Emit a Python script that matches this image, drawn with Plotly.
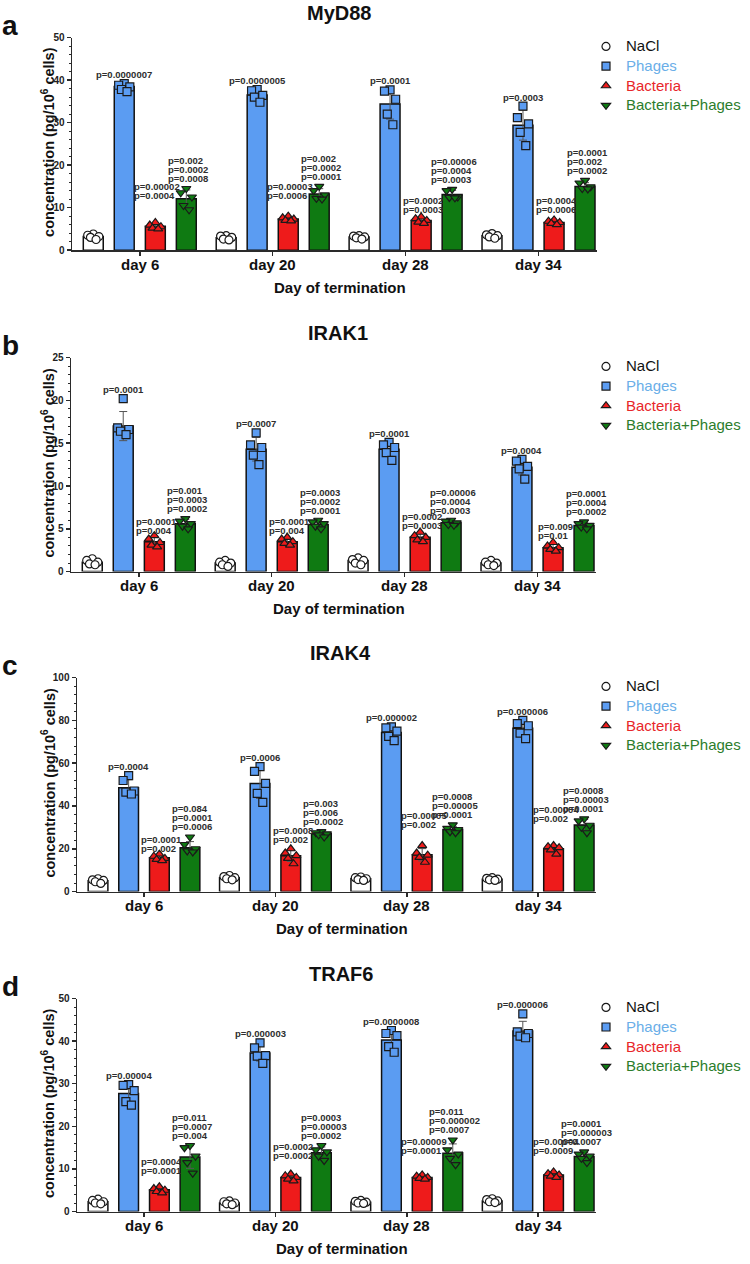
import numpy as np
import plotly.graph_objects as go

W, H = 750, 1264
FONT = "Liberation Sans, Arial, sans-serif"

days = ["day 6", "day 20", "day 28", "day 34"]
series = ["NaCl", "Phages", "Bacteria", "Bacteria+Phages"]
panel_titles = ["MyD88", "IRAK1", "IRAK4", "TRAF6"]
panel_letters = ["a", "b", "c", "d"]

# ---------------- MyD88 (a) ----------------
myd88_nacl_mean = [3.2, 2.9, 3.1, 3.4]
myd88_nacl_pts = [[3.8, 3.5, 3.2, 3.0, 2.5], [3.4, 3.3, 3.0, 2.6, 2.4], [3.4, 3.3, 3.1, 2.9, 2.6], [3.9, 3.6, 3.4, 3.1, 2.8]]
myd88_phages_mean = [38.5, 36.5, 34.4, 29.4]
myd88_phages_pts = [[39.2, 38.8, 38.4, 37.8, 37.3], [37.8, 37.5, 36.4, 36.0, 34.8], [37.7, 37.4, 35.5, 32.0, 29.5], [33.9, 31.2, 29.7, 27.7, 24.6]]
myd88_bact_mean = [5.6, 7.3, 7.0, 6.5]
myd88_bact_pts = [[6.5, 5.9, 5.5, 5.2, 5.0], [8.0, 7.6, 7.3, 7.0, 6.9], [7.8, 7.4, 7.0, 6.6, 6.3], [7.1, 6.8, 6.5, 6.3, 6.0]]
myd88_bp_mean = [12.1, 13.2, 13.1, 15.0]
myd88_bp_pts = [[14.5, 13.5, 12.5, 10.5, 9.5], [15.0, 14.0, 13.0, 12.2, 12.0], [14.3, 14.0, 12.5, 12.4, 12.3], [16.4, 15.8, 14.9, 14.5, 14.4]]
myd88_phages_p = ["p=0.0000007", "p=0.0000005", "p=0.0001", "p=0.0003"]
myd88_bact_p = [["p=0.00002", "p=0.0004"], ["p=0.00003", "p=0.0006"], ["p=0.0002", "p=0.0003"], ["p=0.0004", "p=0.0006"]]
myd88_bp_p = [["p=0.002", "p=0.0002", "p=0.0008"], ["p=0.002", "p=0.0002", "p=0.0001"], ["p=0.00006", "p=0.0004", "p=0.0003"], ["p=0.0001", "p=0.002", "p=0.0002"]]

# ---------------- IRAK1 (b) ----------------
irak1_nacl_mean = [1.1, 1.0, 1.3, 1.0]
irak1_nacl_pts = [[1.5, 1.3, 1.1, 0.9, 0.8], [1.3, 1.1, 1.0, 0.8, 0.6], [1.6, 1.4, 1.3, 1.0, 0.8], [1.3, 1.1, 1.0, 0.8, 0.7]]
irak1_phages_mean = [17.0, 14.3, 14.3, 12.2]
irak1_phages_pts = [[20.2, 16.8, 16.6, 16.4, 16.0], [16.2, 14.8, 14.5, 13.6, 12.5], [15.1, 14.8, 14.5, 13.9, 13.0], [13.1, 12.9, 12.3, 12.0, 10.8]]
irak1_bact_mean = [3.5, 3.5, 4.0, 2.8]
irak1_bact_pts = [[4.2, 3.8, 3.4, 3.1, 2.9], [4.0, 3.8, 3.5, 3.3, 3.1], [4.6, 4.2, 4.0, 3.7, 3.5], [3.4, 3.0, 2.8, 2.6, 2.4]]
irak1_bp_mean = [5.6, 5.5, 5.7, 5.4]
irak1_bp_pts = [[6.2, 5.9, 5.6, 5.3, 5.0], [6.0, 5.8, 5.6, 5.3, 5.0], [6.0, 5.9, 5.7, 5.5, 5.4], [5.8, 5.6, 5.4, 5.2, 5.0]]
irak1_phages_p = ["p=0.0001", "p=0.0007", "p=0.0001", "p=0.0004"]
irak1_bact_p = [["p=0.0001", "p=0.004"], ["p=0.0001", "p=0.004"], ["p=0.0002", "p=0.0003"], ["p=0.009", "p=0.01"]]
irak1_bp_p = [["p=0.001", "p=0.0003", "p=0.0002"], ["p=0.0003", "p=0.0002", "p=0.0001"], ["p=0.00006", "p=0.0004", "p=0.0003"], ["p=0.0001", "p=0.0004", "p=0.0002"]]

# ---------------- IRAK4 (c) ----------------
irak4_nacl_mean = [5.0, 6.5, 6.0, 5.8]
irak4_nacl_pts = [[6.0, 5.5, 5.2, 4.6, 3.8], [7.5, 7.0, 6.5, 6.0, 5.5], [6.8, 6.5, 6.0, 5.6, 5.2], [6.5, 6.2, 5.8, 5.5, 5.2]]
irak4_phages_mean = [48.5, 50.5, 74.3, 76.3]
irak4_phages_pts = [[54.2, 51.9, 47.0, 46.5, 45.6], [58.4, 56.2, 50.6, 45.9, 41.7], [77.0, 76.5, 75.0, 72.5, 70.5], [80.0, 78.5, 77.5, 74.0, 71.5]]
irak4_bact_mean = [15.8, 16.7, 17.2, 20.0]
irak4_bact_pts = [[17.5, 16.5, 15.5, 15.0, 14.5], [20.0, 18.0, 16.8, 15.5, 13.0], [21.5, 18.0, 17.0, 16.0, 13.7], [21.5, 21.0, 20.5, 19.5, 17.5]]
irak4_bp_mean = [20.5, 27.0, 29.0, 31.1]
irak4_bp_pts = [[25.5, 22.0, 20.0, 19.0, 18.5], [28.0, 27.5, 27.0, 26.5, 25.5], [31.2, 29.5, 29.0, 28.0, 27.5], [34.0, 33.0, 31.0, 30.0, 27.5]]
irak4_phages_p = ["p=0.0004", "p=0.0006", "p=0.000002", "p=0.000006"]
irak4_bact_p = [["p=0.0001", "p=0.002"], ["p=0.0008", "p=0.002"], ["p=0.00005", "p=0.002"], ["p=0.00004", "p=0.002"]]
irak4_bp_p = [["p=0.084", "p=0.0001", "p=0.0006"], ["p=0.003", "p=0.006", "p=0.0002"], ["p=0.0008", "p=0.00005", "p=0.0001"], ["p=0.0008", "p=0.00003", "p=0.0001"]]

# ---------------- TRAF6 (d) ----------------
traf6_nacl_mean = [2.3, 2.0, 2.2, 2.5]
traf6_nacl_pts = [[2.9, 2.6, 2.3, 2.0, 1.8], [2.5, 2.3, 2.0, 1.8, 1.6], [2.6, 2.4, 2.2, 2.0, 1.9], [3.0, 2.8, 2.5, 2.3, 2.1]]
traf6_phages_mean = [27.7, 37.2, 40.3, 42.4]
traf6_phages_pts = [[29.8, 29.6, 28.4, 25.8, 25.0], [39.6, 38.4, 36.6, 36.5, 34.8], [42.5, 41.8, 41.3, 38.7, 37.4], [46.4, 42.2, 41.8, 41.2, 40.8]]
traf6_bact_mean = [5.1, 8.0, 8.0, 8.6]
traf6_bact_pts = [[5.8, 5.4, 5.0, 4.7, 4.4], [8.8, 8.4, 8.0, 7.6, 7.2], [8.6, 8.3, 8.0, 7.8, 7.6], [9.3, 8.9, 8.6, 8.3, 8.0]]
traf6_bp_mean = [12.8, 13.8, 13.7, 12.9]
traf6_bp_pts = [[15.5, 15.0, 13.0, 11.5, 9.0], [15.5, 14.5, 14.0, 13.0, 12.0], [16.8, 14.5, 13.5, 12.5, 11.0], [14.0, 13.5, 13.0, 12.5, 11.5]]
traf6_phages_p = ["p=0.00004", "p=0.000003", "p=0.0000008", "p=0.000006"]
traf6_bact_p = [["p=0.0004", "p=0.0001"], ["p=0.0002", "p=0.0002"], ["p=0.00009", "p=0.0001"], ["p=0.00004", "p=0.0009"]]
traf6_bp_p = [["p=0.011", "p=0.0007", "p=0.004"], ["p=0.0003", "p=0.00003", "p=0.0002"], ["p=0.011", "p=0.000002", "p=0.0007"], ["p=0.0001", "p=0.000003", "p=0.0007"]]

# text placement (data units) of the lower line of the Bacteria p-value blocks
myd88_bact_p_y = [12.8, 12.8, 9.5, 9.5]
irak1_bact_p_y = [4.8, 4.8, 5.4, 4.2]
irak4_bact_p_y = [20.0, 24.3, 31.2, 34.0]
traf6_bact_p_y = [9.6, 13.1, 14.3, 14.3]

panels = [
    dict(means=[myd88_nacl_mean, myd88_phages_mean, myd88_bact_mean, myd88_bp_mean],
         pts=[myd88_nacl_pts, myd88_phages_pts, myd88_bact_pts, myd88_bp_pts],
         pph=myd88_phages_p, pba=myd88_bact_p, pbp=myd88_bp_p, pba_y=myd88_bact_p_y,
         ymax=50, dtick=10, minor=2, box=(72, 597, 37, 249.5)),
    dict(means=[irak1_nacl_mean, irak1_phages_mean, irak1_bact_mean, irak1_bp_mean],
         pts=[irak1_nacl_pts, irak1_phages_pts, irak1_bact_pts, irak1_bp_pts],
         pph=irak1_phages_p, pba=irak1_bact_p, pbp=irak1_bp_p, pba_y=irak1_bact_p_y,
         ymax=25, dtick=5, minor=1, box=(71, 596, 357, 571)),
    dict(means=[irak4_nacl_mean, irak4_phages_mean, irak4_bact_mean, irak4_bp_mean],
         pts=[irak4_nacl_pts, irak4_phages_pts, irak4_bact_pts, irak4_bp_pts],
         pph=irak4_phages_p, pba=irak4_bact_p, pbp=irak4_bp_p, pba_y=irak4_bact_p_y,
         ymax=100, dtick=20, minor=4, box=(77, 596, 677, 891)),
    dict(means=[traf6_nacl_mean, traf6_phages_mean, traf6_bact_mean, traf6_bp_mean],
         pts=[traf6_nacl_pts, traf6_phages_pts, traf6_bact_pts, traf6_bp_pts],
         pph=traf6_phages_p, pba=traf6_bact_p, pbp=traf6_bp_p, pba_y=traf6_bact_p_y,
         ymax=50, dtick=10, minor=2, box=(77, 596, 998, 1211)),
]

offsets = [-0.35, -0.117, 0.117, 0.35]
bar_w = 0.15
jit = [0.0, -0.042, 0.042, -0.021, 0.021]
fill = ["#ffffff", "#5b9cf2", "#ee1b1b", "#0f7a12"]
syms = ["circle", "square", "triangle-up", "triangle-down"]
msize = [8, 8, 8, 8]
leg_color = ["#111111", "#6aaee8", "#e8262a", "#2c7d2c"]
AX = "#2a2a2a"
PFONT = dict(family=FONT, size=9.5, color="#2e2e2e", weight="bold")
LINE = 9

cw = {"p": 0.611, "=": 0.584, ".": 0.278}


def textw(s, size=9.5):
    return sum(cw.get(c, 0.556) for c in s) * size


def Y(py):
    # paper fraction for a target pixel row (compensates the page rendering)
    return 1 - ((py - 5.35) / 0.9906) / H


fig = go.Figure()
annotations = []
layout = {}

for k, P in enumerate(panels):
    sfx = "" if k == 0 else str(k + 1)
    xa, ya = "x" + sfx, "y" + sfx
    leg = "legend" + sfx
    x0, x1, yt, yb = P["box"]
    for s in range(4):
        sd = [float(np.std(p, ddof=1)) for p in P["pts"][s]]
        fig.add_trace(go.Bar(
            x=[d + offsets[s] for d in range(4)], y=P["means"][s], width=bar_w,
            marker=dict(color=fill[s], line=dict(color="#111111", width=1.5)),
            error_y=dict(type="data", array=sd, color="#555555", thickness=1, width=4),
            xaxis=xa, yaxis=ya, showlegend=False, hoverinfo="skip"))
    for s in range(4):
        xs, ys = [], []
        for d in range(4):
            for j, v in enumerate(P["pts"][s][d]):
                xs.append(d + offsets[s] + jit[j])
                ys.append(v)
        fig.add_trace(go.Scatter(
            x=xs, y=ys, mode="markers", xaxis=xa, yaxis=ya,
            marker=dict(symbol=syms[s], size=msize[s], color=fill[s],
                        line=dict(color="#1a1a1a", width=1.2)),
            name=f'<span style="color:{leg_color[s]};font-size:15px">{series[s]}</span>',
            legend=leg, showlegend=True, hoverinfo="skip"))

    layout["xaxis" + sfx] = dict(
        domain=[x0 / W, x1 / W], range=[-0.51, 3.44], anchor=ya,
        tickvals=[0, 1, 2, 3], ticktext=days, ticks="outside", ticklen=4,
        tickwidth=1.5, tickcolor=AX, showline=True, linecolor=AX, linewidth=1.5,
        showgrid=False, zeroline=False, showticklabels=False)
    layout["yaxis" + sfx] = dict(
        domain=[Y(yb), Y(yt)], range=[0, P["ymax"]], anchor=xa,
        dtick=P["dtick"], tick0=0, ticks="outside", ticklen=4, tickwidth=1.5,
        tickcolor=AX, showline=True, linecolor=AX, linewidth=1.5,
        showgrid=False, zeroline=False,
        minor=dict(dtick=P["minor"], ticks="outside", ticklen=2, tickwidth=1, tickcolor=AX),
        tickfont=dict(family=FONT, size=10, color="#222222", weight="bold"))
    layout[leg] = dict(
        x=586 / W, y=Y(yt - 6), xanchor="left", yanchor="top",
        bgcolor="rgba(0,0,0,0)", font=dict(family=FONT, size=12.8),
        itemsizing="trace", tracegroupgap=0)

    # category labels under the x axis
    for d in range(4):
        annotations.append(dict(text=f"<b>{days[d]}</b>", x=d, y=Y(yb + 14),
                                xref=xa, yref="paper", xanchor="center", yanchor="middle",
                                showarrow=False, font=dict(family=FONT, size=15, color="#111111")))

    for d in range(4):
        ph = P["pts"][1][d]
        annotations.append(dict(text=P["pph"][d], x=d + offsets[1], y=max(ph),
                                xref=xa, yref=ya, xanchor="center", yanchor="middle",
                                yshift=9, showarrow=False, font=PFONT))
        lines = P["pba"][d]
        w = max(textw(l) for l in lines)
        for i, l in enumerate(lines):
            annotations.append(dict(text=l, x=d + offsets[2], y=P["pba_y"][d],
                                    xref=xa, yref=ya, xanchor="left", yanchor="middle",
                                    xshift=-w / 2, yshift=(len(lines) - 1 - i) * LINE,
                                    showarrow=False, font=PFONT))
        lines = P["pbp"][d]
        w = max(textw(l) for l in lines)
        top = max(P["pts"][3][d])
        for i, l in enumerate(lines):
            annotations.append(dict(text=l, x=d + offsets[3], y=top,
                                    xref=xa, yref=ya, xanchor="left", yanchor="middle",
                                    xshift=-w / 2, yshift=10 + (len(lines) - 1 - i) * LINE,
                                    showarrow=False, font=PFONT))

    cx = (x0 + x1) / 2
    annotations.append(dict(text=f"<b>{panel_titles[k]}</b>", x=(cx + 4) / W, y=Y(yt - 25),
                            xref="paper", yref="paper", xanchor="center", yanchor="middle",
                            showarrow=False, font=dict(family=FONT, size=20, color="#111111")))
    annotations.append(dict(text=f"<b>{panel_letters[k]}</b>", x=10 / W, y=Y(yt - 12),
                            xref="paper", yref="paper", xanchor="center", yanchor="middle",
                            showarrow=False, font=dict(family=FONT, size=28, color="#111111")))
    annotations.append(dict(text="<b>concentration (pg/10<sup>6</sup> cells)</b>",
                            x=48 / W, y=Y((yt + yb) / 2 - 2), textangle=-90,
                            xref="paper", yref="paper", xanchor="center", yanchor="middle",
                            showarrow=False, font=dict(family=FONT, size=14.5, color="#111111")))
    annotations.append(dict(text="<b>Day of termination</b>", x=(cx + 5) / W, y=Y(yb + 37),
                            xref="paper", yref="paper", xanchor="center", yanchor="middle",
                            showarrow=False, font=dict(family=FONT, size=15, color="#111111")))

fig.update_layout(
    width=W, height=H, margin=dict(l=0, r=0, t=0, b=0),
    paper_bgcolor="white", plot_bgcolor="white", barmode="overlay",
    font=dict(family=FONT, color="#111111"), hovermode=False,
    annotations=annotations, **layout)

fig.write_html("out.html", config={"displayModeBar": False, "staticPlot": True},
               post_script="document.body.style.margin='0px';document.body.style.overflow='hidden';")
